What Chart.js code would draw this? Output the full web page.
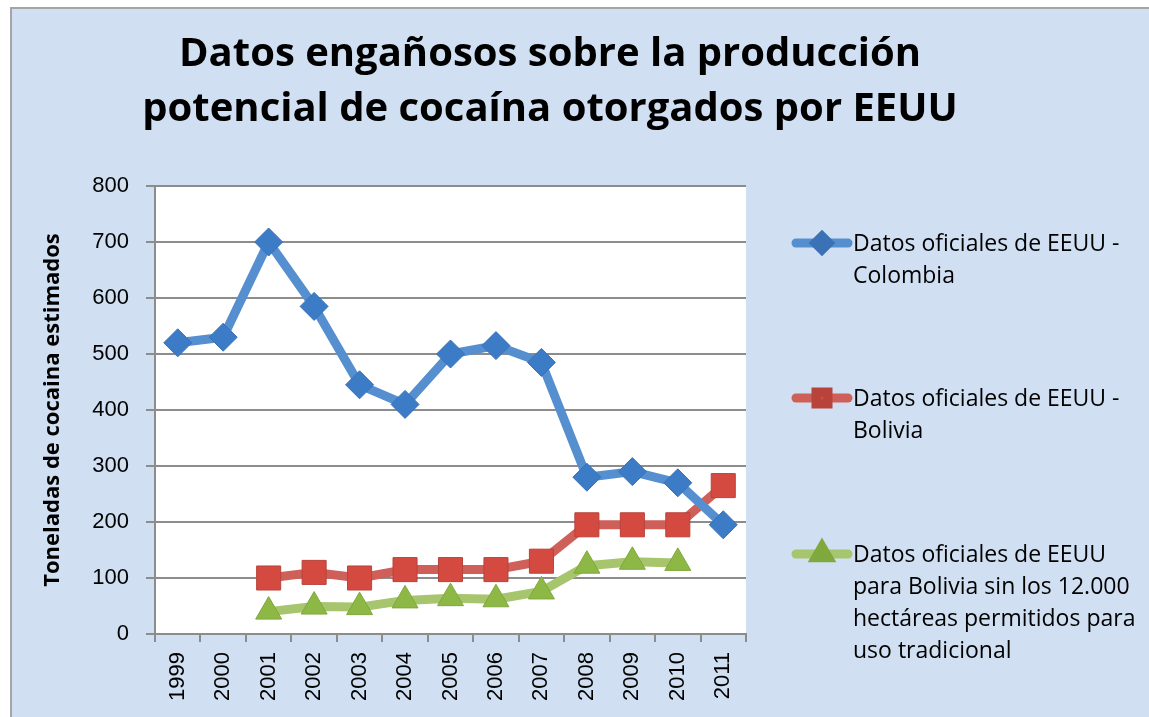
<!DOCTYPE html>
<html>
<head>
<meta charset="utf-8">
<script src="https://cdn.jsdelivr.net/npm/chart.js@4/dist/chart.umd.min.js"></script>
<style>
  body { margin: 0; background: #ffffff; overflow: hidden; }
  #frame {
    position: absolute; left: 10px; top: 7px; width: 1200px; height: 800px;
    background: #d0e0f2; border: 2px solid #a5a5a5;
  }
  #chart { position: absolute; left: 0; top: 0; }
</style>
</head>
<body>
<div id="frame"></div>
<canvas id="chart" width="1149" height="717"></canvas>
<script>
// Chart data
const titleLines = [
    'Datos engañosos sobre la producción',
    'potencial de cocaína otorgados por EEUU'
];
const yAxisTitle = 'Toneladas de cocaina estimados';
const years = ['1999', '2000', '2001', '2002', '2003', '2004', '2005', '2006', '2007', '2008', '2009', '2010', '2011'];
const colombia = [520, 530, 700, 585, 445, 410, 500, 515, 485, 280, 290, 270, 195];
const bolivia = [null, null, 100, 110, 100, 115, 115, 115, 130, 195, 195, 195, 265];
const boliviaSinTradicional = [null, null, 40, 49, 48, 60, 64, 62, 76, 122, 129, 127, null];
const legendLabels = [
    ['Datos oficiales de EEUU -', 'Colombia'],
    ['Datos oficiales de EEUU -', 'Bolivia'],
    ['Datos oficiales de EEUU', 'para Bolivia sin los 12.000', 'hectáreas permitidos para', 'uso tradicional']
];

// White plot area, title and the wrapped legend on the right
const decorPlugin = {
    id: 'decor',
    beforeDraw(chart) {
        const { ctx, chartArea: a } = chart;
        ctx.save();
        ctx.fillStyle = '#ffffff';
        ctx.fillRect(a.left, a.top, a.right - a.left, a.bottom - a.top);
        ctx.restore();
    },
    afterDraw(chart) {
        const ctx = chart.ctx;
        ctx.save();
        ctx.fillStyle = '#000000';
        ctx.font = 'bold 40px "Open Sans"';
        ctx.textAlign = 'center';
        ctx.textBaseline = 'alphabetic';
        titleLines.forEach((line, i) => ctx.fillText(line, 550, 66 + i * 55));

        const legendY = [243, 398, 554];
        chart.data.datasets.forEach((ds, i) => {
            const y = legendY[i];
            ctx.strokeStyle = ds.borderColor;
            ctx.lineWidth = 9;
            ctx.lineCap = 'round';
            ctx.beginPath();
            ctx.moveTo(796, y);
            ctx.lineTo(848, y);
            ctx.stroke();
            ctx.fillStyle = ds.pointBackgroundColor;
            ctx.strokeStyle = ds.pointBorderColor;
            Chart.helpers.drawPoint(ctx, {
                pointStyle: ds.pointStyle,
                radius: ds.pointRadius * 0.5,
                borderWidth: 1,
                rotation: 0
            }, 822, y);

            ctx.fillStyle = '#000000';
            ctx.font = '23px "Open Sans"';
            ctx.textAlign = 'left';
            ctx.textBaseline = 'middle';
            legendLabels[i].forEach((line, k) => ctx.fillText(line, 853, y + 1 + k * 32));
        });
        ctx.restore();
    }
};

const ctx = document.getElementById('chart').getContext('2d');
new Chart(ctx, {
    type: 'line',
    data: {
        labels: years,
        datasets: [
            {
                label: legendLabels[0].join(' '),
                data: colombia,
                borderColor: '#568fcf',
                borderWidth: 9,
                pointStyle: 'rectRot',
                pointRadius: 14,
                pointBackgroundColor: '#3c7cc7',
                pointBorderColor: '#3a72b5',
                pointBorderWidth: 1
            },
            {
                label: legendLabels[1].join(' '),
                data: bolivia,
                borderColor: '#cf5f59',
                borderWidth: 9,
                pointStyle: 'rect',
                pointRadius: 17,
                pointBackgroundColor: '#d44a40',
                pointBorderColor: '#b8433b',
                pointBorderWidth: 1
            },
            {
                label: legendLabels[2].join(' '),
                data: boliviaSinTradicional,
                borderColor: '#a6c56c',
                borderWidth: 9,
                pointStyle: 'triangle',
                pointRadius: 15,
                pointBackgroundColor: '#8db845',
                pointBorderColor: '#7fa83d',
                pointBorderWidth: 1
            }
        ]
    },
    options: {
        responsive: false,
        animation: false,
        layout: { padding: { left: 0, top: 186, right: 403, bottom: 0 } },
        elements: { line: { tension: 0, borderJoinStyle: 'round', borderCapStyle: 'round' } },
        plugins: {
            legend: { display: false },
            title: { display: false },
            tooltip: { enabled: false }
        },
        scales: {
            x: {
                type: 'category',
                offset: true,
                afterFit: scale => { scale.height = 83; },
                grid: { offset: true, drawOnChartArea: false, drawTicks: true, tickLength: 8, color: '#8c8c8c', lineWidth: 2 },
                border: { color: '#8c8c8c', width: 2 },
                ticks: {
                    minRotation: 90,
                    maxRotation: 90,
                    padding: 10,
                    color: '#000000',
                    font: { family: '"Liberation Sans"', size: 22 }
                }
            },
            y: {
                min: 0,
                max: 800,
                afterFit: scale => { scale.width = 155; },
                grid: { color: '#8c8c8c', lineWidth: 2, tickLength: 9 },
                border: { color: '#8c8c8c', width: 2 },
                ticks: {
                    stepSize: 100,
                    padding: 17,
                    color: '#000000',
                    font: { family: '"Liberation Sans"', size: 22 }
                },
                title: {
                    display: true,
                    text: yAxisTitle,
                    color: '#000000',
                    padding: { top: 40, bottom: 0 },
                    font: { family: '"Open Sans"', size: 22, weight: 'bold' }
                }
            }
        }
    },
    plugins: [decorPlugin]
});
</script>
</body>
</html>
